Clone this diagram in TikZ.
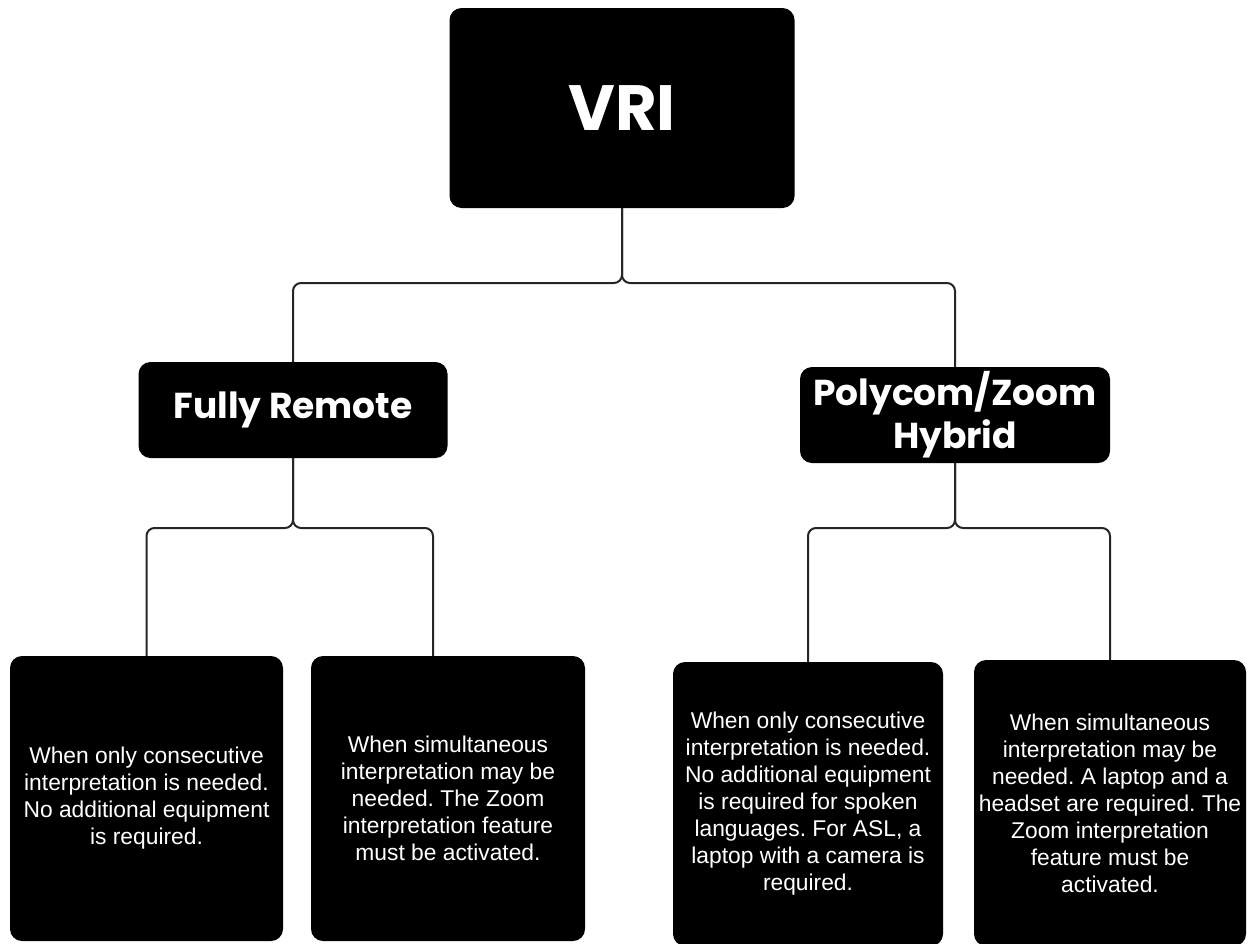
\documentclass[tikz,border=0pt]{standalone}
\usepackage{fontspec}
\setmainfont{Liberation Sans}
\newfontfamily\headfont{Poppins}
\frenchspacing
\begin{document}
\begin{tikzpicture}[x=1pt,y=-1pt,
  box/.style={draw=none,fill=black,rounded corners=12pt,text=white,inner sep=0pt,align=center},
  body/.style={box,font=\fontsize{22.8}{27}\selectfont},
  conn/.style={draw=black!85,line width=2pt,rounded corners=8pt}]
\useasboundingbox (0,0) rectangle (1248,943);
\clip (0,0) rectangle (1248,943);
\node[box,minimum width=345pt,minimum height=200pt,font=\headfont\bfseries\fontsize{64}{70}\selectfont] (vri) at (622,108) {VRI};
\node[box,minimum width=309pt,minimum height=96pt,font=\headfont\bfseries\fontsize{36}{40}\selectfont] (fr) at (293,410) {Fully Remote};
\node[box,minimum width=310pt,minimum height=96pt,font=\headfont\bfseries\fontsize{36}{43}\selectfont] (pz) at (955,415) {Polycom/Zoom\\Hybrid};
\node[body,minimum width=273pt,minimum height=285pt] (b1) at (146.5,798.5) {When only consecutive\\interpretation is needed.\\No additional equipment\\is required.};
\node[body,minimum width=274pt,minimum height=285pt] (b2) at (448,798.5) {When simultaneous\\interpretation may be\\needed. The Zoom\\interpretation feature\\must be activated.};
\node[body,minimum width=270pt,minimum height=284pt] (b3) at (808,804) {When only consecutive\\interpretation is needed.\\No additional equipment\\is required for spoken\\languages. For ASL, a\\laptop with a camera is\\required.};
\node[body,minimum width=272pt,minimum height=286pt] (b4) at (1110,803) {When simultaneous\\interpretation may be\\needed. A laptop and a\\headset are required. The\\Zoom interpretation\\feature must be\\activated.};
\coordinate (t) at (622,283);
\coordinate (f) at (293,528);
\coordinate (p) at (955,528);
\coordinate (b2in) at (433,656);
\draw[conn] (vri.south) -- (t) -| (fr.north);
\draw[conn] (vri.south) -- (t) -| (pz.north);
\draw[conn] (fr.south) -- (f) -| (b1.north);
\draw[conn] (fr.south) -- (f) -| (b2in);
\draw[conn] (pz.south) -- (p) -| (b3.north);
\draw[conn] (pz.south) -- (p) -| (b4.north);
\end{tikzpicture}
\end{document}
